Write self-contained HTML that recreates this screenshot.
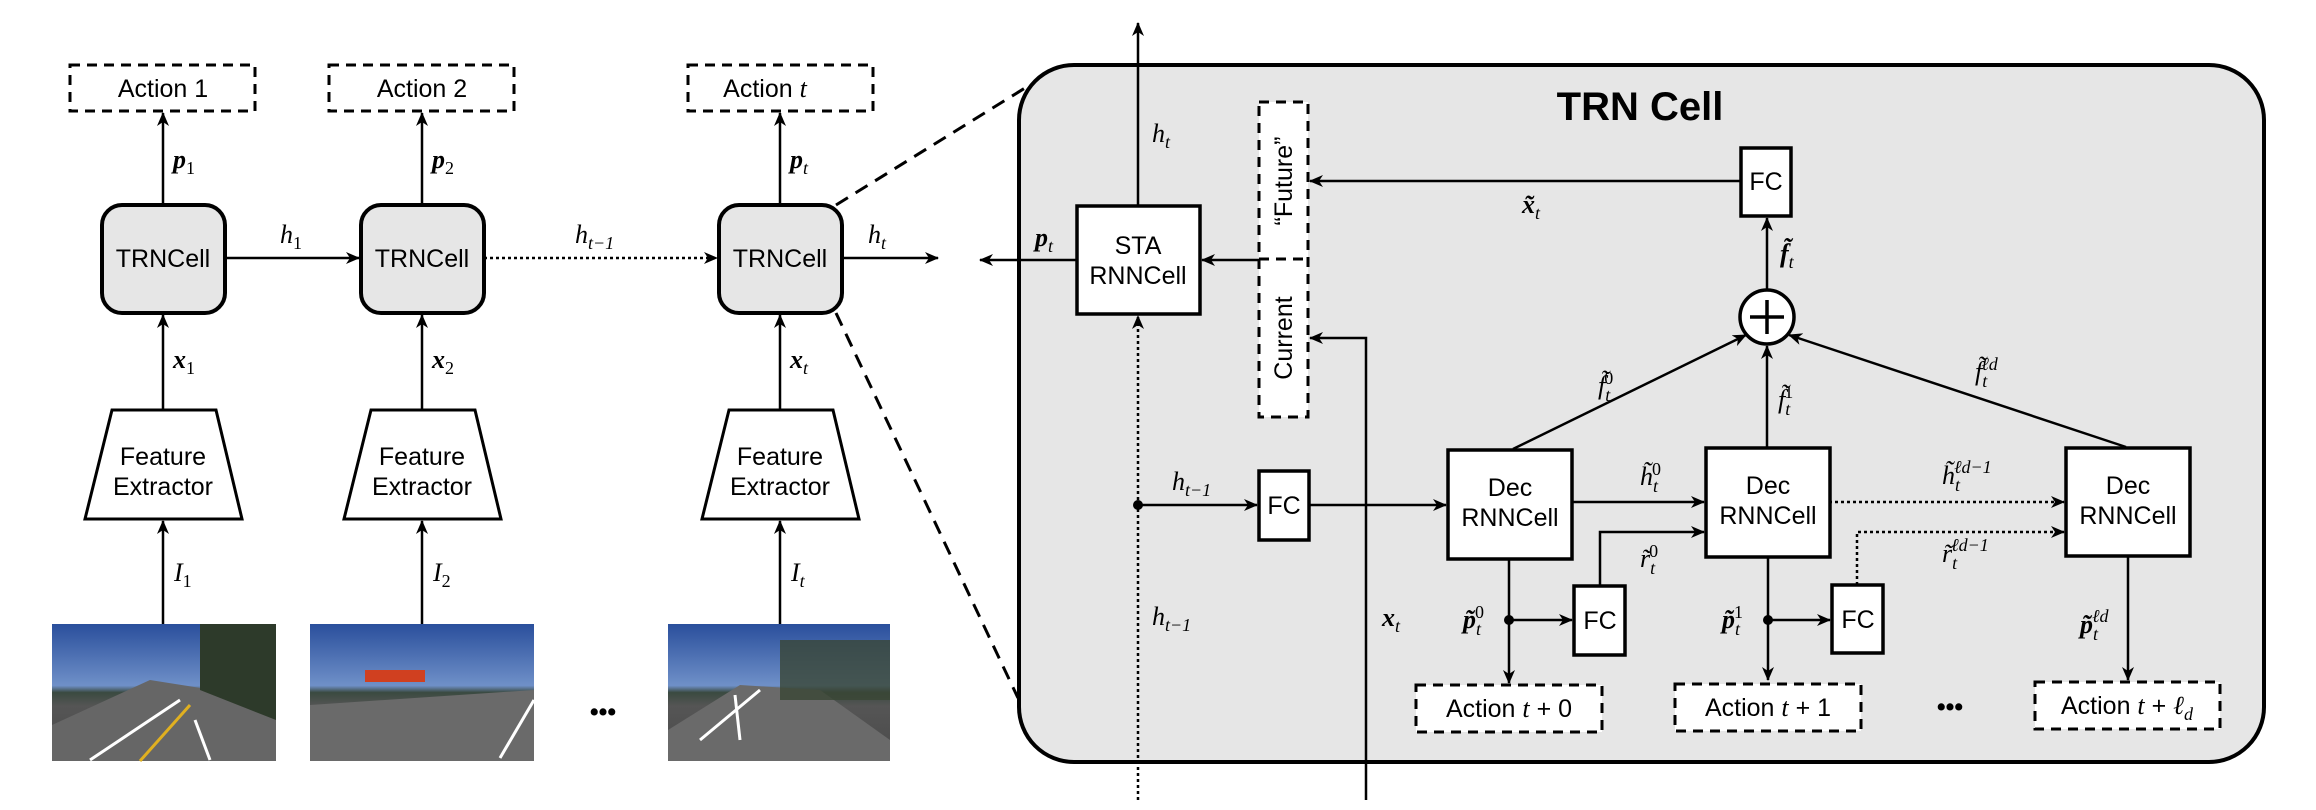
<!DOCTYPE html>
<html><head><meta charset="utf-8"><style>
html,body{margin:0;padding:0;background:#fff;}
svg{display:block;}
.s{font-family:"Liberation Sans",Arial,sans-serif;font-size:25px;fill:#000;}
.m{font-family:"Liberation Serif","DejaVu Serif",serif;font-style:italic;font-size:26px;fill:#000;}
.mb{font-family:"Liberation Serif","DejaVu Serif",serif;font-style:italic;font-weight:bold;font-size:26px;fill:#000;}
.sub{font-size:18px;font-weight:normal;}
.n{font-style:normal;}
</style></head><body>
<svg width="2316" height="810" viewBox="0 0 2316 810" xmlns="http://www.w3.org/2000/svg">
<defs>
<marker id="a" viewBox="0 0 14 12" refX="13" refY="6" markerWidth="14" markerHeight="12" markerUnits="userSpaceOnUse" orient="auto">
<path d="M0,0 L14,6 L0,12 L4,6 Z" fill="#000"/></marker>
<linearGradient id="sky" x1="0" y1="0" x2="0" y2="1">
<stop offset="0" stop-color="#2a4f9c"/><stop offset="0.45" stop-color="#6f90c8"/><stop offset="0.5" stop-color="#3a4a40"/><stop offset="0.6" stop-color="#555"/><stop offset="1" stop-color="#4a4a4a"/></linearGradient>
</defs>

<!-- Left chain -->
<g stroke="#000" stroke-width="3" fill="none">
<rect x="70" y="65" width="185" height="46" stroke-dasharray="10,7"/>
<rect x="329" y="65" width="185" height="46" stroke-dasharray="10,7"/>
<rect x="688" y="65" width="185" height="46" stroke-dasharray="10,7"/>
<rect x="102" y="205" width="123" height="108" rx="20" fill="#e6e6e6" stroke-width="4"/>
<rect x="361" y="205" width="123" height="108" rx="20" fill="#e6e6e6" stroke-width="4"/>
<rect x="719" y="205" width="123" height="108" rx="20" fill="#e6e6e6" stroke-width="4"/>
<path d="M112,410 L216,410 L242,519 L85,519 Z" fill="#fff"/>
<path d="M371,410 L475,410 L501,519 L344,519 Z" fill="#fff"/>
<path d="M729,410 L833,410 L859,519 L702,519 Z" fill="#fff"/>
</g>
<g stroke="#000" stroke-width="2.5" fill="none" marker-end="url(#a)">
<line x1="163" y1="205" x2="163" y2="113"/>
<line x1="422" y1="205" x2="422" y2="113"/>
<line x1="780" y1="205" x2="780" y2="113"/>
<line x1="163" y1="410" x2="163" y2="315"/>
<line x1="422" y1="410" x2="422" y2="315"/>
<line x1="780" y1="410" x2="780" y2="315"/>
<line x1="163" y1="624" x2="163" y2="521"/>
<line x1="422" y1="624" x2="422" y2="521"/>
<line x1="780" y1="624" x2="780" y2="521"/>
<line x1="225" y1="258" x2="359" y2="258"/>
<line x1="484" y1="258" x2="717" y2="258" stroke-dasharray="3,3"/>
<line x1="842" y1="258" x2="938" y2="258"/>
</g>
<text class="s" x="163" y="97" text-anchor="middle">Action 1</text>
<text class="s" x="422" y="97" text-anchor="middle">Action 2</text>
<text class="s" x="765" y="97" text-anchor="middle">Action <tspan class="m">t</tspan></text>
<text class="s" x="163" y="267" text-anchor="middle">TRNCell</text>
<text class="s" x="422" y="267" text-anchor="middle">TRNCell</text>
<text class="s" x="780" y="267" text-anchor="middle">TRNCell</text>
<text class="s" x="163" y="465" text-anchor="middle">Feature</text>
<text class="s" x="163" y="495" text-anchor="middle">Extractor</text>
<text class="s" x="422" y="465" text-anchor="middle">Feature</text>
<text class="s" x="422" y="495" text-anchor="middle">Extractor</text>
<text class="s" x="780" y="465" text-anchor="middle">Feature</text>
<text class="s" x="780" y="495" text-anchor="middle">Extractor</text>
<text class="mb" x="173" y="168">p<tspan class="sub n" dy="6">1</tspan></text>
<text class="mb" x="432" y="168">p<tspan class="sub n" dy="6">2</tspan></text>
<text class="mb" x="790" y="168">p<tspan class="sub" dy="6">t</tspan></text>
<text class="mb" x="173" y="368">x<tspan class="sub n" dy="6">1</tspan></text>
<text class="mb" x="432" y="368">x<tspan class="sub n" dy="6">2</tspan></text>
<text class="mb" x="790" y="368">x<tspan class="sub" dy="6">t</tspan></text>
<text class="m" x="174" y="581">I<tspan class="sub n" dy="6">1</tspan></text>
<text class="m" x="433" y="581">I<tspan class="sub n" dy="6">2</tspan></text>
<text class="m" x="791" y="581">I<tspan class="sub" dy="6">t</tspan></text>
<text class="m" x="280" y="243">h<tspan class="sub n" dy="6">1</tspan></text>
<text class="m" x="575" y="243">h<tspan class="sub" dy="6">t−1</tspan></text>
<text class="m" x="868" y="243">h<tspan class="sub" dy="6">t</tspan></text>
<!-- images -->
<g>
<rect x="52" y="624" width="224" height="137" fill="url(#sky)"/>
<path d="M52,761 L52,725 L150,680 L276,700 L276,761 Z" fill="#666"/>
<path d="M200,624 L276,624 L276,720 L200,690 Z" fill="#2d3a2a"/>
<rect x="310" y="624" width="224" height="137" fill="url(#sky)"/>
<path d="M310,761 L310,705 L534,690 L534,761 Z" fill="#6a6a6a"/>
<rect x="365" y="670" width="60" height="12" fill="#d04020"/>
<rect x="668" y="624" width="222" height="137" fill="url(#sky)"/>
<path d="M668,761 L668,730 L740,685 L820,690 L890,740 L890,761 Z" fill="#6a6a6a"/>
<path d="M780,640 L890,640 L890,700 L780,700 Z" fill="#3a4634" opacity="0.8"/>
<g stroke="#fff" stroke-width="3"><line x1="90" y1="760" x2="180" y2="700"/><line x1="210" y1="760" x2="195" y2="720"/><line x1="500" y1="758" x2="534" y2="700"/><line x1="700" y1="740" x2="760" y2="690"/><line x1="740" y1="740" x2="735" y2="695"/></g>
<line x1="140" y1="761" x2="190" y2="705" stroke="#e0b020" stroke-width="3"/>
</g>
<text class="s" x="603" y="720" text-anchor="middle" font-weight="bold">•••</text>
<!-- zoom dashed lines -->
<g stroke="#000" stroke-width="3" stroke-dasharray="14,9">
<line x1="836" y1="205" x2="1025" y2="88"/>
<line x1="836" y1="313" x2="1018" y2="698"/>
</g>

<!-- TRN Cell big box -->
<rect x="1019" y="65" width="1245" height="697" rx="55" fill="#e6e6e6" stroke="#000" stroke-width="4"/>
<text x="1640" y="120" text-anchor="middle" font-family="Liberation Sans,Arial,sans-serif" font-weight="bold" font-size="40">TRN Cell</text>

<g stroke="#000" stroke-width="2.5" fill="none" marker-end="url(#a)">
<line x1="1138" y1="206" x2="1138" y2="23"/>
<line x1="1077" y1="260" x2="980" y2="260"/>
<line x1="1259" y1="260" x2="1202" y2="260"/>
<line x1="1138" y1="800" x2="1138" y2="316" stroke-dasharray="3,3"/>
<polyline points="1366,800 1366,338 1310,338"/>
<line x1="1741" y1="181" x2="1310" y2="181"/>
<line x1="1767" y1="290" x2="1767" y2="218"/>
<line x1="1138" y1="505" x2="1257" y2="505"/>
<line x1="1309" y1="505" x2="1446" y2="505"/>
<line x1="1572" y1="502" x2="1704" y2="502"/>
<polyline points="1600,586 1600,532 1704,532"/>
<line x1="1829" y1="502" x2="2064" y2="502" stroke-dasharray="3,3"/>
<polyline points="1857,585 1857,532 2064,532" stroke-dasharray="3,3"/>
<line x1="1509" y1="559" x2="1509" y2="683"/>
<line x1="1768" y1="557" x2="1768" y2="680"/>
<line x1="2128" y1="556" x2="2128" y2="680"/>
<line x1="1509" y1="620" x2="1572" y2="620"/>
<line x1="1768" y1="620" x2="1830" y2="620"/>
<line x1="1513" y1="449" x2="1746" y2="335"/>
<line x1="1767" y1="447" x2="1767" y2="346"/>
<line x1="2126" y1="447" x2="1789" y2="335"/>
</g>
<circle cx="1138" cy="505" r="5" fill="#000"/>
<circle cx="1509" cy="620" r="5" fill="#000"/>
<circle cx="1768" cy="620" r="5" fill="#000"/>

<g stroke="#000" stroke-width="3.5" fill="#fff">
<rect x="1077" y="206" width="123" height="108"/>
<rect x="1741" y="148" width="50" height="68"/>
<rect x="1259" y="471" width="50" height="69"/>
<rect x="1448" y="450" width="124" height="109"/>
<rect x="1706" y="448" width="124" height="109"/>
<rect x="2066" y="448" width="124" height="108"/>
<rect x="1574" y="586" width="51" height="69"/>
<rect x="1832" y="585" width="51" height="68"/>
<circle cx="1767" cy="317" r="27"/>
</g>
<g stroke="#000" stroke-width="3.5"><line x1="1767" y1="300" x2="1767" y2="334"/><line x1="1750" y1="317" x2="1784" y2="317"/></g>
<g stroke="#000" stroke-width="3" fill="#fff" stroke-dasharray="10,7">
<rect x="1259" y="102" width="49" height="315"/>
<rect x="1416" y="685" width="186" height="47"/>
<rect x="1675" y="684" width="186" height="47"/>
<rect x="2035" y="682" width="185" height="47"/>
</g>
<line x1="1259" y1="259" x2="1308" y2="259" stroke="#000" stroke-width="3" stroke-dasharray="10,7"/>

<text class="s" x="1138" y="254" text-anchor="middle">STA</text>
<text class="s" x="1138" y="284" text-anchor="middle">RNNCell</text>
<text class="s" x="1766" y="190" text-anchor="middle">FC</text>
<text class="s" x="1284" y="514" text-anchor="middle">FC</text>
<text class="s" x="1600" y="629" text-anchor="middle">FC</text>
<text class="s" x="1858" y="628" text-anchor="middle">FC</text>
<text class="s" x="1510" y="496" text-anchor="middle">Dec</text>
<text class="s" x="1510" y="526" text-anchor="middle">RNNCell</text>
<text class="s" x="1768" y="494" text-anchor="middle">Dec</text>
<text class="s" x="1768" y="524" text-anchor="middle">RNNCell</text>
<text class="s" x="2128" y="494" text-anchor="middle">Dec</text>
<text class="s" x="2128" y="524" text-anchor="middle">RNNCell</text>
<text class="s" transform="translate(1292,181) rotate(-90)" text-anchor="middle">“Future”</text>
<text class="s" transform="translate(1292,338) rotate(-90)" text-anchor="middle">Current</text>
<text class="s" x="1509" y="717" text-anchor="middle">Action <tspan class="m">t</tspan> + 0</text>
<text class="s" x="1768" y="716" text-anchor="middle">Action <tspan class="m">t</tspan> + 1</text>
<text class="s" x="2127" y="714" text-anchor="middle">Action <tspan class="m">t</tspan> + <tspan class="m">ℓ</tspan><tspan class="m sub" dy="6">d</tspan></text>
<text class="s" x="1950" y="715" text-anchor="middle" font-weight="bold">•••</text>

<text class="m" x="1152" y="142">h<tspan class="sub" dy="6">t</tspan></text>
<text class="mb" x="1035" y="246">p<tspan class="sub" dy="6">t</tspan></text>
<text class="mb" x="1522" y="213">x̃<tspan class="sub" dy="6">t</tspan></text>
<text class="mb" x="1780" y="262">f̃<tspan class="sub" dy="6">t</tspan></text>
<text class="m" x="1598" y="394">f̃<tspan class="sub" dy="7">t</tspan><tspan class="sub n" dy="-17" dx="-6">0</tspan></text>
<text class="m" x="1778" y="408">f̃<tspan class="sub" dy="7">t</tspan><tspan class="sub n" dy="-17" dx="-6">1</tspan></text>
<text class="m" x="1975" y="380">f̃<tspan class="sub" dy="7">t</tspan><tspan class="sub" dy="-17" dx="-6">ℓd</tspan></text>
<text class="m" x="1172" y="490">h<tspan class="sub" dy="6">t−1</tspan></text>
<text class="m" x="1152" y="625">h<tspan class="sub" dy="6">t−1</tspan></text>
<text class="mb" x="1382" y="626">x<tspan class="sub" dy="6">t</tspan></text>
<text class="m" x="1640" y="485">h̃<tspan class="sub" dy="7">t</tspan><tspan class="sub n" dy="-17" dx="-6">0</tspan></text>
<text class="m" x="1640" y="567">r̃<tspan class="sub" dy="7">t</tspan><tspan class="sub n" dy="-17" dx="-6">0</tspan></text>
<text class="m" x="1942" y="484">h̃<tspan class="sub" dy="7">t</tspan><tspan class="sub" dy="-18" dx="-6">ℓd−1</tspan></text>
<text class="m" x="1942" y="562">r̃<tspan class="sub" dy="7">t</tspan><tspan class="sub" dy="-18" dx="-6">ℓd−1</tspan></text>
<text class="mb" x="1463" y="628">p̃<tspan class="sub" dy="7">t</tspan><tspan class="sub n" dy="-17" dx="-6">0</tspan></text>
<text class="mb" x="1722" y="628">p̃<tspan class="sub" dy="7">t</tspan><tspan class="sub n" dy="-17" dx="-6">1</tspan></text>
<text class="mb" x="2080" y="633">p̃<tspan class="sub" dy="7">t</tspan><tspan class="sub" dy="-18" dx="-6">ℓd</tspan></text>
</svg>
</body></html>
